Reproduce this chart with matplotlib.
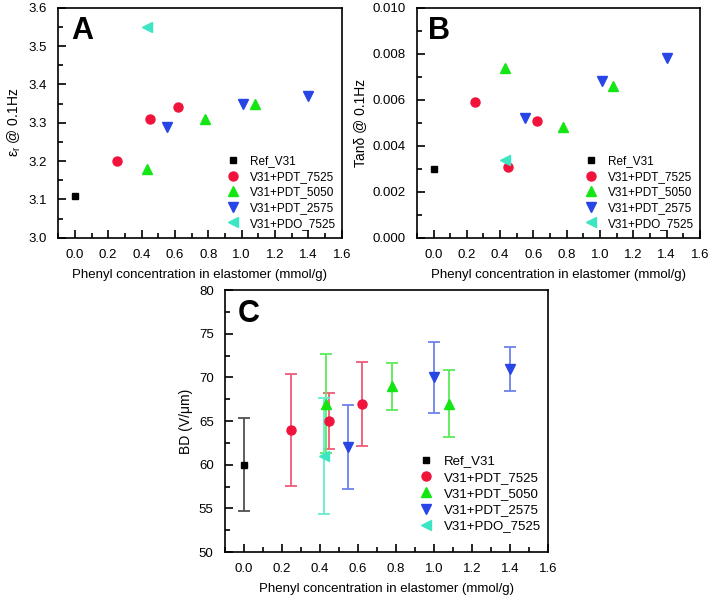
import numpy as np
import matplotlib
matplotlib.use('Agg')
import matplotlib.pyplot as plt
from matplotlib.ticker import MultipleLocator, FormatStrFormatter
from matplotlib.lines import Line2D

plt.rcParams['font.family'] = ['Liberation Sans', 'DejaVu Sans']
plt.rcParams['font.size'] = 9.5

# series names
names = ['Ref_V31', 'V31+PDT_7525', 'V31+PDT_5050', 'V31+PDT_2575', 'V31+PDO_7525']

# phenyl concentration (mmol/g) per series
x_ref = [0.0]
x_7525 = [0.25, 0.45, 0.62]
x_5050 = [0.43, 0.78, 1.08]
x_2575 = [0.55, 1.01, 1.40]
x_pdo = [0.43]

# A: permittivity @ 0.1 Hz
eps_ref = [3.11]
eps_7525 = [3.20, 3.31, 3.34]
eps_5050 = [3.18, 3.31, 3.35]
eps_2575 = [3.29, 3.35, 3.37]
eps_pdo = [3.55]

# B: tan delta @ 0.1 Hz
tan_ref = [0.0030]
tan_7525 = [0.0059, 0.0031, 0.0051]
tan_5050 = [0.0074, 0.0048, 0.0066]
tan_2575 = [0.0052, 0.0068, 0.0078]
tan_pdo = [0.0034]

# C: breakdown strength (V/um) and error bars
xbd_ref = [0.0]
xbd_7525 = [0.25, 0.45, 0.62]
xbd_5050 = [0.43, 0.78, 1.08]
xbd_2575 = [0.55, 1.00, 1.40]
xbd_pdo = [0.42]
bd_ref = [60.0]
bd_7525 = [64.0, 65.0, 67.0]
bd_5050 = [67.0, 69.0, 67.0]
bd_2575 = [62.0, 70.0, 71.0]
bd_pdo = [61.0]
err_ref = [5.3]
err_7525 = [6.4, 3.2, 4.8]
err_5050 = [5.7, 2.7, 3.8]
err_2575 = [4.8, 4.1, 2.5]
err_pdo = [6.7]

markers = ['s', 'o', '^', 'v', '<']
colors = ['#000000', '#f0143c', '#14e614', '#2846e6', '#3ce6c3']
ecolors = ['#505050', '#f05a78', '#5aeb5a', '#6e82eb', '#64ebd2']

xs = [x_ref, x_7525, x_5050, x_2575, x_pdo]
eps = [eps_ref, eps_7525, eps_5050, eps_2575, eps_pdo]
tans = [tan_ref, tan_7525, tan_5050, tan_2575, tan_pdo]
xbd = [xbd_ref, xbd_7525, xbd_5050, xbd_2575, xbd_pdo]
bds = [bd_ref, bd_7525, bd_5050, bd_2575, bd_pdo]
errs = [err_ref, err_7525, err_5050, err_2575, err_pdo]

msize = [5, 6.5, 7, 7, 7]

fig = plt.figure(figsize=(7.09, 6.02), dpi=100)
axA = fig.add_axes([0.082, 0.605, 0.400, 0.382])
axB = fig.add_axes([0.588, 0.605, 0.399, 0.382])
axC = fig.add_axes([0.317, 0.083, 0.456, 0.435])


def style_axes(ax):
    ax.set_xlim(-0.1, 1.6)
    ax.xaxis.set_major_locator(MultipleLocator(0.2))
    ax.xaxis.set_minor_locator(MultipleLocator(0.1))
    ax.xaxis.set_major_formatter(FormatStrFormatter('%.1f'))
    ax.tick_params(which='both', direction='in', top=False, right=False)
    ax.tick_params(which='major', length=6, width=1.2, pad=8)
    ax.tick_params(which='minor', length=3.5, width=1.2)
    for s in ax.spines.values():
        s.set_linewidth(1.2)
    ax.set_xlabel('Phenyl concentration in elastomer (mmol/g)', fontsize=9.5, labelpad=6)


for i in range(5):
    axA.plot(xs[i], eps[i], linestyle='none', marker=markers[i], color=colors[i],
             markersize=msize[i], label=names[i])
    axB.plot(xs[i], tans[i], linestyle='none', marker=markers[i], color=colors[i],
             markersize=msize[i], label=names[i])
    axC.errorbar(xbd[i], bds[i], yerr=errs[i], linestyle='none', marker=markers[i],
                 color=colors[i], ecolor=ecolors[i], elinewidth=1.3, capsize=4,
                 capthick=1.3, markersize=msize[i])

style_axes(axA)
axA.set_ylim(3.0, 3.6)
axA.yaxis.set_major_locator(MultipleLocator(0.1))
axA.yaxis.set_minor_locator(MultipleLocator(0.05))
axA.set_ylabel(r'$\mathregular{\varepsilon_r}$ @ 0.1Hz', fontsize=10)
axA.text(0.045, 0.9, 'A', transform=axA.transAxes, fontsize=22, fontweight='bold',
         va='center')

style_axes(axB)
axB.set_ylim(0.0, 0.010)
axB.yaxis.set_major_locator(MultipleLocator(0.002))
axB.yaxis.set_minor_locator(MultipleLocator(0.001))
axB.yaxis.set_major_formatter(FormatStrFormatter('%.3f'))
axB.set_ylabel('Tan\u03b4 @ 0.1Hz', fontsize=10)
axB.text(0.04, 0.9, 'B', transform=axB.transAxes, fontsize=22, fontweight='bold',
         va='center')

style_axes(axC)
axC.set_ylim(50, 80)
axC.yaxis.set_major_locator(MultipleLocator(5))
axC.yaxis.set_minor_locator(MultipleLocator(2.5))
axC.set_ylabel('BD (V/\u03bcm)', fontsize=10)
axC.text(0.04, 0.91, 'C', transform=axC.transAxes, fontsize=22, fontweight='bold',
         va='center')

for ax in (axA, axB):
    ax.legend(loc='lower right', bbox_to_anchor=(1.0, 0.01), frameon=False,
              fontsize=8.5, handletextpad=0.8, labelspacing=0.3, borderaxespad=0.1,
              handlelength=1.2)

handles = [Line2D([], [], linestyle='none', marker=markers[i], color=colors[i],
                  markersize=msize[i]) for i in range(5)]
axC.legend(handles, names, loc='lower right', bbox_to_anchor=(1.0, 0.05), frameon=False,
           fontsize=9.5, handletextpad=0.8, labelspacing=0.3, borderaxespad=0.1,
           handlelength=1.2)

fig.savefig('out.png', dpi=100)
